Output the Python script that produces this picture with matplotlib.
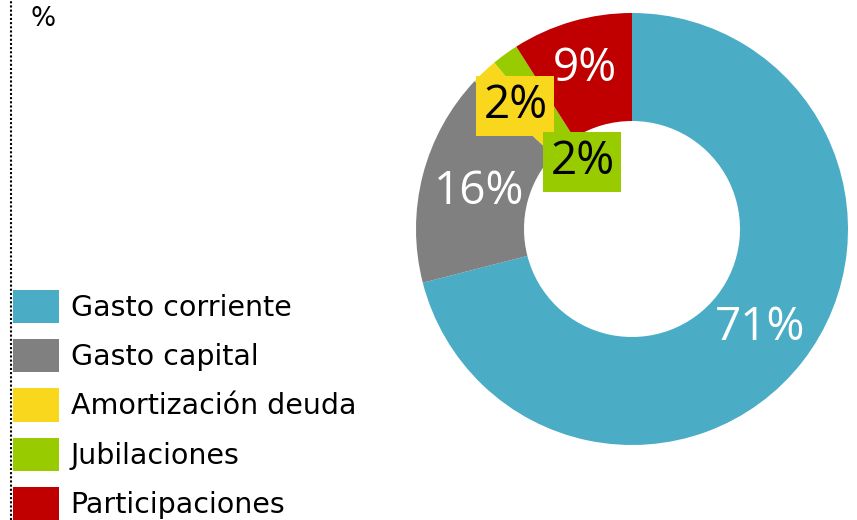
import matplotlib
matplotlib.use("Agg")
import matplotlib.pyplot as plt
from matplotlib.patches import Patch
from matplotlib.lines import Line2D

labels = ["Gasto corriente", "Gasto capital", "Amortización deuda", "Jubilaciones", "Participaciones"]
values = [71, 16, 2, 2, 9]
colors = ["#4BACC6", "#808080", "#F9D71C", "#99CC00", "#C00000"]
text_colors = ["white", "white", "black", "black", "white"]

W, H = 857, 520
fig = plt.figure(figsize=(W / 100, H / 100), dpi=100)

# donut axes, centre ~ (632, 229) px, radius ~216 px
cx, cy, r = 632, 229, 216
ax = fig.add_axes([(cx - r) / W, (H - cy - r) / H, 2 * r / W, 2 * r / H])
wedges, texts, autotexts = ax.pie(values, colors=colors, startangle=90, counterclock=False,
                                  radius=1, wedgeprops=dict(width=0.5, edgecolor="none"),
                                  autopct="%.0f%%", pctdistance=0.75,
                                  textprops=dict(fontsize=33, family="Open Sans"))
ax.set_xlim(-1, 1)
ax.set_ylim(-1, 1)
ax.set_aspect("equal")

for t, c in zip(autotexts, text_colors):
    t.set_color(c)

# small slices get boxed labels
autotexts[2].set_position((-0.54, 0.57))
autotexts[2].set_bbox(dict(boxstyle="square,pad=0.15", fc=colors[2], ec="none"))
autotexts[3].set_position((-0.23, 0.31))
autotexts[3].set_bbox(dict(boxstyle="square,pad=0.15", fc=colors[3], ec="none"))
autotexts[4].set_position((-0.22, 0.74))
autotexts[1].set_position((-0.71, 0.17))

# legend
handles = [Patch(facecolor=c, edgecolor="none") for c in colors]
fig.legend(handles, labels, loc="upper left", bbox_to_anchor=(13 / W, 1 - 290 / H),
           frameon=False, fontsize=20.5, handlelength=1.6, handleheight=1.42,
           handletextpad=0.42, labelspacing=0.56, borderpad=0, borderaxespad=0)

fig.text(31 / W, 1 - 6 / H, "%", fontsize=19, va="top", ha="left")

# dotted border on the left
fig.add_artist(Line2D([11 / W, 11 / W], [0, 1], transform=fig.transFigure,
                      color="black", linestyle=(0, (1, 1)), linewidth=1.5))

fig.savefig("out.png", dpi=100)
